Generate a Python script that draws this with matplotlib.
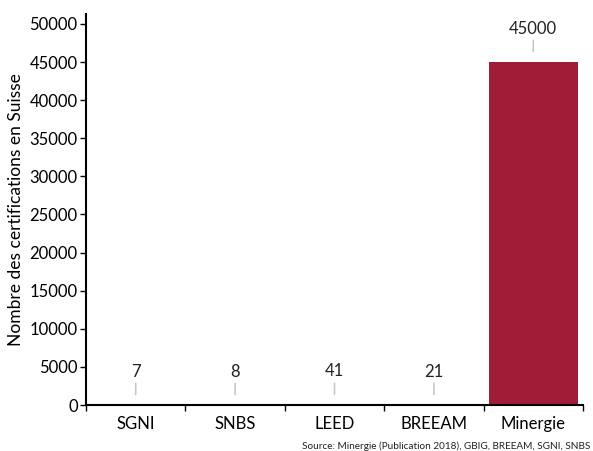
import matplotlib
matplotlib.use('Agg')
import matplotlib.pyplot as plt
import numpy as np

# Data
categories = ['SGNI', 'SNBS', 'LEED', 'BREEAM', 'Minergie']
certifications = [7, 8, 41, 21, 45000]
label_texts = ['7', '8', '41', '21', '45000']

bar_color = '#a11c37'

plt.rcParams['font.family'] = ['Lato', 'DejaVu Sans']

fig = plt.figure(figsize=(5.93, 4.51), dpi=100)
ax = fig.add_axes([86 / 593, 46 / 451, 497 / 593, 391 / 451])

x = np.arange(len(categories))
ax.bar(x, certifications, width=0.9, color=bar_color)

# value labels with a short grey leader line above each bar
for xi, val, txt in zip(x, certifications, label_texts):
    ax.annotate('', xy=(xi, val), xycoords='data',
                xytext=(0, 15.5), textcoords='offset points',
                arrowprops=dict(arrowstyle='-', color='#c8c8c8', lw=1.2,
                                shrinkA=0, shrinkB=7.5))
    ax.annotate(txt, xy=(xi, val), xycoords='data',
                xytext=(0, 24), textcoords='offset points',
                ha='center', va='center', fontsize=12, color='#222222')

ax.set_xlim(-0.5, len(categories) - 0.5)
ax.set_ylim(0, 51300)
ax.set_yticks(np.arange(0, 50001, 5000))
ax.tick_params(axis='y', labelsize=12, length=4, width=1, direction='out', pad=2)

ax.set_xticks(x)
ax.set_xticklabels(categories)
ax.set_xticks(np.arange(-0.5, len(categories), 1.0), minor=True)
ax.tick_params(axis='x', which='major', length=0, labelsize=12, pad=8)
ax.tick_params(axis='x', which='minor', length=4, width=1, direction='out')

for side in ['top', 'right']:
    ax.spines[side].set_visible(False)
ax.spines['left'].set_linewidth(1.5)
ax.spines['bottom'].set_linewidth(1.5)

ax.set_ylabel('Nombre des certifications en Suisse', fontsize=12.5, labelpad=4)

fig.text(590 / 593, 1 - 446 / 451, 'Source: Minergie (Publication 2018), GBIG, BREEAM, SGNI, SNBS',
         ha='right', va='center', fontsize=7.2, color='#222222')

fig.savefig('out.png', dpi=100)
